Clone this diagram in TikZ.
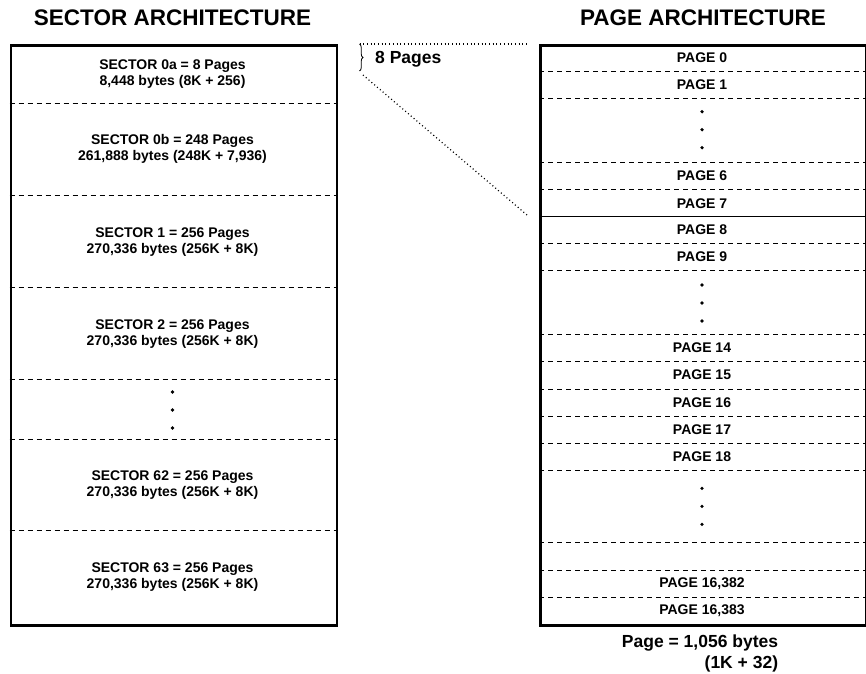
\documentclass[tikz,border=0pt]{standalone}
\usepackage{fontspec}
\setmainfont{Liberation Sans}
\usetikzlibrary{decorations.pathreplacing}
\tikzset{
  frame/.style={draw, line width=2.6pt, inner sep=0pt},
  sep/.style={line width=0.9pt, dash pattern=on 5pt off 4pt},
  solidsep/.style={line width=1.2pt},
  dotline/.style={line width=1.2pt, dash pattern=on 1pt off 2.7pt},
  title/.style={font=\fontsize{22.5}{26}\selectfont\bfseries, anchor=base, inner sep=0pt},
  sectxt/.style={font=\fontsize{14}{16}\selectfont\bfseries, align=center, inner sep=0pt},
  pagetxt/.style={font=\fontsize{14}{16}\selectfont\bfseries, inner sep=0pt},
  bigtxt/.style={font=\fontsize{17.5}{21}\selectfont\bfseries, inner sep=0pt},
  vdot/.style={circle, fill, inner sep=0pt, minimum size=3.6pt},
}
\begin{document}
\begin{tikzpicture}[x=1pt,y=-1pt]
\useasboundingbox (0,0) rectangle (866,673);

% titles
\node[title] (t1) at (172.5,25) {SECTOR ARCHITECTURE};
\node[title] (t2) at (703,25) {PAGE ARCHITECTURE};

% ---------------- left box ----------------
\node[frame, minimum width=326pt, minimum height=580pt, anchor=north west] (sec) at (9.5,44) {};
\foreach \y in {103,195,287.5,379.3,439,530.5}
  \draw[sep] (9.5,\y) -- (335.5,\y);

\node[sectxt] (s0a) at (172.5,74.5) {SECTOR 0a = 8 Pages\\8,448 bytes (8K + 256)};
\node[sectxt] (s0b) at (172.5,149) {SECTOR 0b = 248 Pages\\261,888 bytes (248K + 7,936)};
\node[sectxt] (s1) at (172.5,242) {SECTOR 1 = 256 Pages\\270,336 bytes (256K + 8K)};
\node[sectxt] (s2) at (172.5,334) {SECTOR 2 = 256 Pages\\270,336 bytes (256K + 8K)};
\node[vdot] (ld1) at (172.5,392) {};
\node[vdot] (ld2) at (172.5,410) {};
\node[vdot] (ld3) at (172.5,428) {};
\node[sectxt] (s62) at (172.5,485) {SECTOR 62 = 256 Pages\\270,336 bytes (256K + 8K)};
\node[sectxt] (s63) at (172.5,577.5) {SECTOR 63 = 256 Pages\\270,336 bytes (256K + 8K)};

% ---------------- right box ----------------
\node[frame, minimum width=325.5pt, minimum height=580pt, anchor=north west] (pg) at (539,44) {};
\foreach \y in {71.7,98.3,162.3,189.7,243.3,270,334,361,389,416,443.3,470.7,542.7,570,597.3}
  \draw[sep] (539,\y) -- (864.5,\y);
\draw[solidsep] (539,216.7) -- (864.5,216.7);

\node[pagetxt] (p0) at (702,57.9) {PAGE 0};
\node[pagetxt] (p1) at (702,85) {PAGE 1};
\node[vdot] (rd1) at (702,111.7) {};
\node[vdot] (rd2) at (702,129.7) {};
\node[vdot] (rd3) at (702,147.7) {};
\node[pagetxt] (p6) at (702,176) {PAGE 6};
\node[pagetxt] (p7) at (702,203.2) {PAGE 7};
\node[pagetxt] (p8) at (702,230) {PAGE 8};
\node[pagetxt] (p9) at (702,256.7) {PAGE 9};
\node[vdot] (rd4) at (702,285) {};
\node[vdot] (rd5) at (702,303) {};
\node[vdot] (rd6) at (702,321) {};
\node[pagetxt] (p14) at (702,347.5) {PAGE 14};
\node[pagetxt] (p15) at (702,375) {PAGE 15};
\node[pagetxt] (p16) at (702,402.5) {PAGE 16};
\node[pagetxt] (p17) at (702,429.7) {PAGE 17};
\node[pagetxt] (p18) at (702,457) {PAGE 18};
\node[vdot] (rd7) at (702,488.3) {};
\node[vdot] (rd8) at (702,506.3) {};
\node[vdot] (rd9) at (702,524.3) {};
\node[pagetxt] (p16382) at (702,583.7) {PAGE 16,382};
\node[pagetxt] (p16383) at (702,610.7) {PAGE 16,383};

\node[bigtxt, anchor=base east] (ps1) at (778.3,647) {Page = 1,056 bytes};
\node[bigtxt, anchor=base east] (ps2) at (778.3,668) {(1K + 32)};

% ---------------- brace and zoom lines ----------------
\coordinate (bt) at (359.5,44);
\coordinate (bb) at (359.5,71);
\draw[line width=0.8pt, decorate, decoration={brace, amplitude=3.5pt}] (bt) -- (bb);
\node[bigtxt, anchor=base west] (eight) at (375,63.3) {8 Pages};
\coordinate (zt) at (527,44);
\coordinate (zs) at (363,75);
\coordinate (ze) at (529,216.7);
\draw[dotline] (bt) -- (zt);
\draw[dotline] (zs) -- (ze);
\end{tikzpicture}
\end{document}
